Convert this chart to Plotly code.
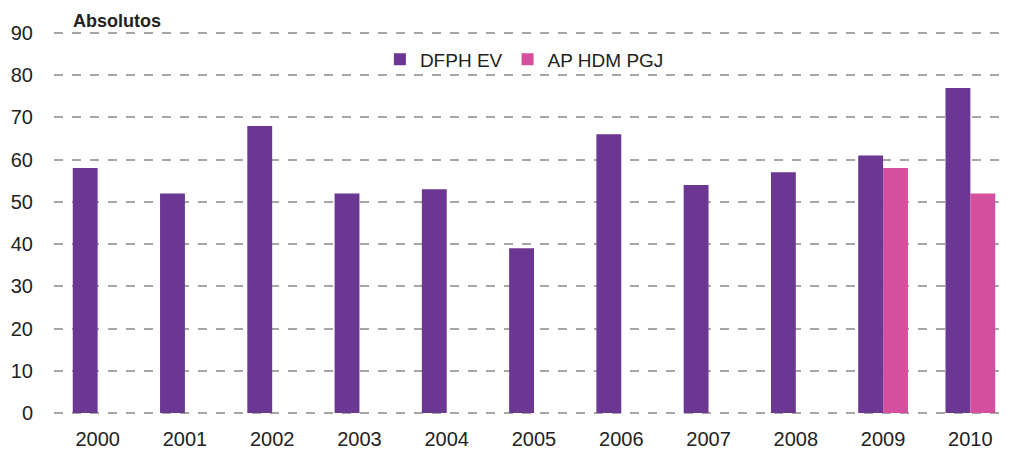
import plotly.graph_objects as go

years = ["2000", "2001", "2002", "2003", "2004", "2005", "2006", "2007", "2008", "2009", "2010"]
dfph_ev = [58, 52, 68, 52, 53, 39, 66, 54, 57, 61, 77]
ap_hdm_pgj = [None, None, None, None, None, None, None, None, None, 58, 52]
y_ticks = [0, 10, 20, 30, 40, 50, 60, 70, 80, 90]

fig = go.Figure()
fig.add_trace(go.Bar(x=years, y=dfph_ev, name="DFPH EV", marker=dict(color="#6b3793", line=dict(width=0))))
fig.add_trace(go.Bar(x=years, y=ap_hdm_pgj, name="AP HDM PGJ", marker=dict(color="#d4509e", line=dict(width=0))))

fig.update_layout(
    width=1008, height=447,
    margin=dict(l=46, r=2, t=23, b=40),
    paper_bgcolor="white", plot_bgcolor="white",
    barmode="group", bargap=0.43, bargroupgap=0,
    font=dict(family="Liberation Sans, Arial, sans-serif", size=20, color="#222222"),
    legend=dict(orientation="h", x=0.49, xanchor="center", y=0.926, yanchor="middle",
                font=dict(size=19), bgcolor="rgba(0,0,0,0)", itemwidth=30),
    annotations=[dict(text="<b>Absolutos</b>", x=(71 - 54) / 960, xanchor="left",
                      y=1 + 10 / 384, yanchor="middle", xref="paper", yref="paper",
                      showarrow=False, font=dict(size=18, color="#222222"))],
)

fig.update_xaxes(showgrid=False, zeroline=False, showline=False,
                 ticks="outside", ticklen=6, tickcolor="rgba(0,0,0,0)")
fig.update_yaxes(range=[-0.47, 90.47], tickvals=y_ticks, showgrid=True, gridcolor="#a6a6a6",
                 griddash="dash", gridwidth=1.5, zeroline=False, showline=False,
                 ticks="outside", ticklen=16, tickcolor="rgba(0,0,0,0)")

fig.write_html("out.html")
